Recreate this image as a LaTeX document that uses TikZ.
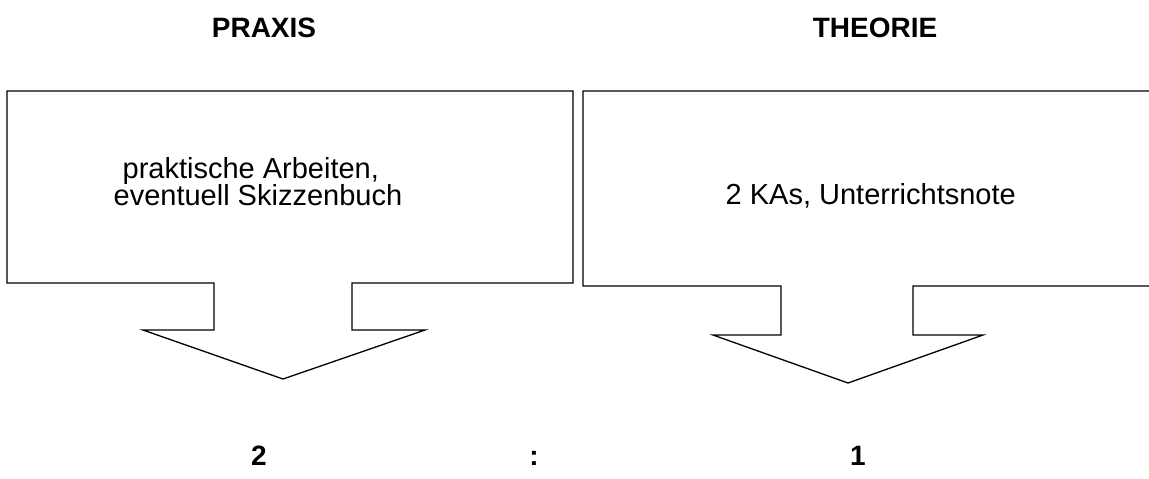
\documentclass[tikz,border=0pt]{standalone}
\usepackage{fontspec}
\setmainfont{Liberation Sans}
\begin{document}
\begin{tikzpicture}[x=0.5pt,y=-0.5pt,line width=0.65pt,
  headline/.style={font=\fontsize{14}{17}\bfseries\selectfont,inner sep=0pt},
  boxtext/.style={font=\fontsize{14.5}{17}\selectfont,inner sep=0pt}]
\useasboundingbox (0,0) rectangle (1149,478);
% Praxis
\draw (7,91) -- (573,91) -- (573,283) -- (352,283) -- (352,330) -- (425,330) -- (283,379)
  -- (143,330) -- (214,330) -- (214,283) -- (7,283) -- cycle;
% Theorie (rechter Rand abgeschnitten)
\draw (1149,91) -- (583,91) -- (583,286) -- (781,286) -- (781,335) -- (713,335) -- (848,383)
  -- (983,335) -- (913,335) -- (913,286) -- (1149,286);
\node[headline,anchor=base] (praxis) at (264,37) {PRAXIS};
\node[headline,anchor=base] (theorie) at (875,37) {THEORIE};
\node[boxtext,anchor=base west] (arbeiten) at (122,178) {praktische Arbeiten,};
\node[boxtext,anchor=base west] (skizzen) at (113,205) {eventuell Skizzenbuch};
\node[boxtext,anchor=base west] (noten) at (725,204) {2 KAs, Unterrichtsnote};
\node[headline,anchor=base] (zwei) at (259,465) {2};
\node[headline,anchor=base] (colon) at (534,465) {:};
\node[headline,anchor=base] (eins) at (858,465) {1};
\end{tikzpicture}
\end{document}
